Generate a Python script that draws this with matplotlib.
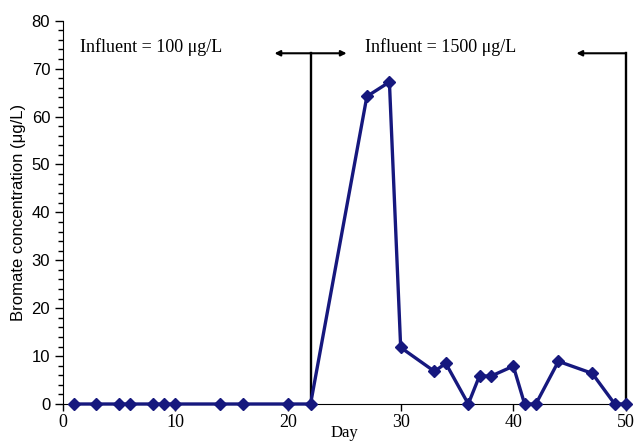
import matplotlib
matplotlib.use('Agg')
import matplotlib.pyplot as plt
from matplotlib.ticker import MultipleLocator

# bromate in effluent (ug/L) by day
days = [1, 3, 5, 6, 8, 9, 10, 14, 16, 20, 22, 27, 29, 30, 33, 34, 36, 37, 38, 40, 41, 42, 44, 47, 49, 50]
bromate = [0, 0, 0, 0, 0, 0, 0, 0, 0, 0, 0, 64.2, 67.2, 11.8, 6.8, 8.5, 0, 5.9, 5.8, 7.9, 0, 0, 8.9, 6.4, 0, 0]

switch_day = 22
end_day = 50
bracket_y = 73.2

serif = 'Liberation Serif'
sans = 'Liberation Sans'

fig = plt.figure(figsize=(6.37, 4.42), dpi=100)
ax = fig.add_axes([62.7 / 637, 1 - 404 / 442, (626 - 62.7) / 637, (404 - 20.7) / 442])

ax.plot(days, bromate, color='#16187e', lw=2.4, marker='D', ms=6, clip_on=False, zorder=3)

# influent change markers
ax.plot([switch_day, switch_day], [0, bracket_y], color='black', lw=1.7, clip_on=False)
ax.plot([end_day, end_day], [0, bracket_y], color='black', lw=1.7, clip_on=False)
arrow = dict(arrowstyle='-|>', color='black', lw=1.5, mutation_scale=8, shrinkA=0, shrinkB=0)
ax.annotate('', xy=(18.8, bracket_y), xytext=(switch_day, bracket_y), arrowprops=arrow)
ax.annotate('', xy=(25.2, bracket_y), xytext=(switch_day, bracket_y), arrowprops=arrow)
ax.annotate('', xy=(45.6, bracket_y), xytext=(end_day, bracket_y), arrowprops=arrow,
            annotation_clip=False)

ax.text(1.5, 74.5, 'Influent = 100 \u03bcg/L', family=serif, fontsize=13, va='center')
ax.text(26.8, 74.5, 'Influent = 1500 \u03bcg/L', family=serif, fontsize=13, va='center')

ax.set_xlim(0, 50)
ax.set_ylim(0, 80)
ax.xaxis.set_major_locator(MultipleLocator(10))
ax.yaxis.set_major_locator(MultipleLocator(10))
ax.yaxis.set_minor_locator(MultipleLocator(2))
ax.tick_params(axis='y', which='major', length=6, width=1, labelsize=12, pad=3)
ax.tick_params(axis='y', which='minor', length=3.5, width=1)
ax.tick_params(axis='x', which='major', length=5, width=1, labelsize=13, pad=2)
for lab in ax.get_yticklabels():
    lab.set_family(sans)
for lab in ax.get_xticklabels():
    lab.set_family(serif)

for s in ['top', 'right']:
    ax.spines[s].set_visible(False)

ax.set_xlabel('Day', family=serif, fontsize=12, labelpad=-4)
ax.set_ylabel('Bromate concentration (\u03bcg/L)', family=sans, fontsize=12, labelpad=4)

fig.savefig('out.png', dpi=100)
